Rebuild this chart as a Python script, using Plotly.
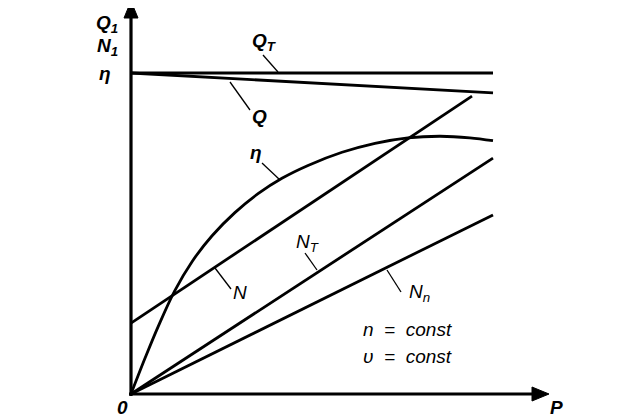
import plotly.graph_objects as go

# ---- data (relative units; P normalised to 1 at the right end of the curves) ----
P_line = [0.0, 1.0]
Q_T = [1.0, 1.0]
Q = [1.0, 0.938]
P_N = [0.0, 0.942]
N = [0.221, 0.928]
N_T = [0.0, 0.735]
N_n = [0.0, 0.558]
P_eta = [0.0, 0.04, 0.075, 0.12, 0.169, 0.224, 0.287, 0.351, 0.417, 0.489,
         0.583, 0.674, 0.765, 0.854, 0.936, 1.0]
eta = [0.0, 0.115, 0.21, 0.32, 0.413, 0.493, 0.565, 0.624, 0.672, 0.712,
       0.753, 0.781, 0.798, 0.803, 0.798, 0.789]

W, H = 630, 420
OFF = 8             # page body margin in the browser
X0, SX = 131, 362   # page pixel of P=0, pixels per unit
Y0, SY = 394, 321   # page pixel of y=0, pixels per unit


def dx(px):
    return (px - X0) / SX


def dy(py):
    return (Y0 - py) / SY


fig = go.Figure()
LW = 2.8
for xs, ys in [(P_line, Q_T), (P_line, Q), (P_N, N), (P_line, N_T), (P_line, N_n)]:
    fig.add_trace(go.Scatter(x=xs, y=ys, mode="lines",
                             line=dict(color="black", width=LW), hoverinfo="skip"))
fig.add_trace(go.Scatter(x=P_eta, y=eta, mode="lines",
                         line=dict(color="black", width=LW, shape="spline", smoothing=1.0),
                         hoverinfo="skip"))

shapes = []
# axes
shapes.append(dict(type="line", x0=0, y0=dy(396), x1=0, y1=dy(14), xref="x", yref="y",
                   line=dict(color="black", width=3.2)))
shapes.append(dict(type="line", x0=dx(129), y0=0, x1=dx(536), y1=0, xref="x", yref="y",
                   line=dict(color="black", width=3.2)))
# arrowheads
shapes.append(dict(type="path", xref="x", yref="y",
                   path=f"M {dx(131)} {dy(1)} L {dx(124)} {dy(18)} L {dx(138)} {dy(18)} Z",
                   fillcolor="black", line=dict(color="black", width=1)))
shapes.append(dict(type="path", xref="x", yref="y",
                   path=f"M {dx(549)} {dy(394)} L {dx(532)} {dy(387)} L {dx(532)} {dy(401)} Z",
                   fillcolor="black", line=dict(color="black", width=1)))
# leader lines
leaders = [((263, 55), (278, 72)),   # Q_T
           ((230, 82), (250, 110)),  # Q
           ((262, 163), (280, 180)), # eta
           ((215, 268), (231, 289)), # N
           ((305, 253), (317, 270)), # N_T
           ((387, 270), (401, 292))] # N_n
for (a, b) in leaders:
    shapes.append(dict(type="line", xref="x", yref="y", x0=dx(a[0]), y0=dy(a[1]),
                       x1=dx(b[0]), y1=dy(b[1]), line=dict(color="black", width=1.3)))

FONT = dict(family="Liberation Sans, Arial, sans-serif", size=19, color="black")
labels = [
    (264, 42, "<b><i>Q<sub>T</sub></i></b>"),
    (259, 116, "<b><i>Q</i></b>"),
    (256, 152, "<b><i>η</i></b>"),
    (240, 292, "<i>N</i>"),
    (307, 243, "<i>N<sub>T</sub></i>"),
    (419, 293, "<i>N<sub>n</sub></i>"),
    (107, 24, "<b><i>Q<sub>1</sub></i></b>"),
    (107, 47, "<b><i>N<sub>1</sub></i></b>"),
    (105, 73, "<b><i>η</i></b>"),
    (122, 407, "<b><i>0</i></b>"),
    (556, 407, "<b><i>P</i></b>"),
    (407, 329, "<i>n  =  const</i>"),
    (407, 356, "<i>υ  =  const</i>"),
]
annotations = [dict(x=dx(px), y=dy(py), xref="x", yref="y", text=t, showarrow=False,
                    font=FONT, xanchor="center", yanchor="middle") for px, py, t in labels]

fig.update_layout(
    width=W, height=H, margin=dict(l=0, r=0, t=0, b=0),
    paper_bgcolor="white", plot_bgcolor="white", showlegend=False,
    xaxis=dict(range=[dx(OFF), dx(OFF + W)], visible=False, fixedrange=True),
    yaxis=dict(range=[dy(OFF + H), dy(OFF)], visible=False, fixedrange=True),
    shapes=shapes, annotations=annotations,
)
fig.write_html("out.html")
